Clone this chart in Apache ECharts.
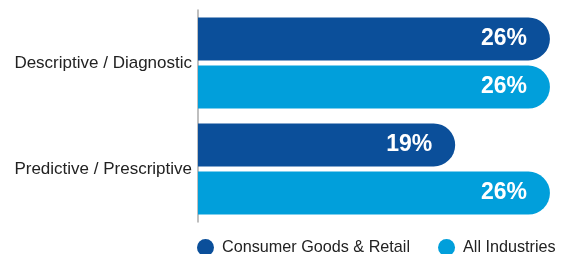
<!DOCTYPE html>
<html><head><meta charset="utf-8">
<script src="https://cdn.jsdelivr.net/npm/echarts@6/dist/echarts.min.js"></script>
<style>html,body{margin:0;padding:0;background:#fff}#c{width:579px;height:254px}</style>
</head><body><div id="c"></div>
<script>
const categories = ['Descriptive / Diagnostic', 'Predictive / Prescriptive'];
const seriesNames = ['Consumer Goods & Retail', 'All Industries'];
const consumerGoods = [26, 19];
const allIndustries = [26, 26];
const colors = ['#0B4F9A', '#019FDB'];

const chart = echarts.init(document.getElementById('c'), null, {renderer: 'canvas'});
const mk = (name, data, color) => ({
  name, type: 'bar', data, barWidth: 43, barGap: '12%',
  itemStyle: {color, borderRadius: [0, 22, 22, 0]},
  label: {show: true, position: 'insideRight', distance: 23, formatter: '{c}%',
    color: '#fff', fontWeight: 'bold', fontSize: 23, fontFamily: 'Liberation Sans, Arial, sans-serif'},
  emphasis: {disabled: true}
});
chart.setOption({
  animation: false,
  grid: {left: 198, top: 10, width: 379, height: 212, containLabel: false},
  xAxis: {type: 'value', min: 0, max: 28, show: false},
  yAxis: {type: 'category', data: categories, inverse: true,
    axisLine: {show: true, lineStyle: {color: '#aaa', width: 1.5}},
    axisTick: {show: false},
    axisLabel: {color: '#222', fontSize: 17, margin: 6, fontFamily: 'Liberation Sans, Arial, sans-serif'}},
  legend: {bottom: -7, left: 192, itemGap: 28, itemWidth: 17, itemHeight: 17, icon: 'circle',
    textStyle: {color: '#222', fontSize: 16.2, padding: [0, 0, 0, 3], fontFamily: 'Liberation Sans, Arial, sans-serif'},
    data: seriesNames},
  series: [mk(seriesNames[0], consumerGoods, colors[0]), mk(seriesNames[1], allIndustries, colors[1])]
});
</script></body></html>
